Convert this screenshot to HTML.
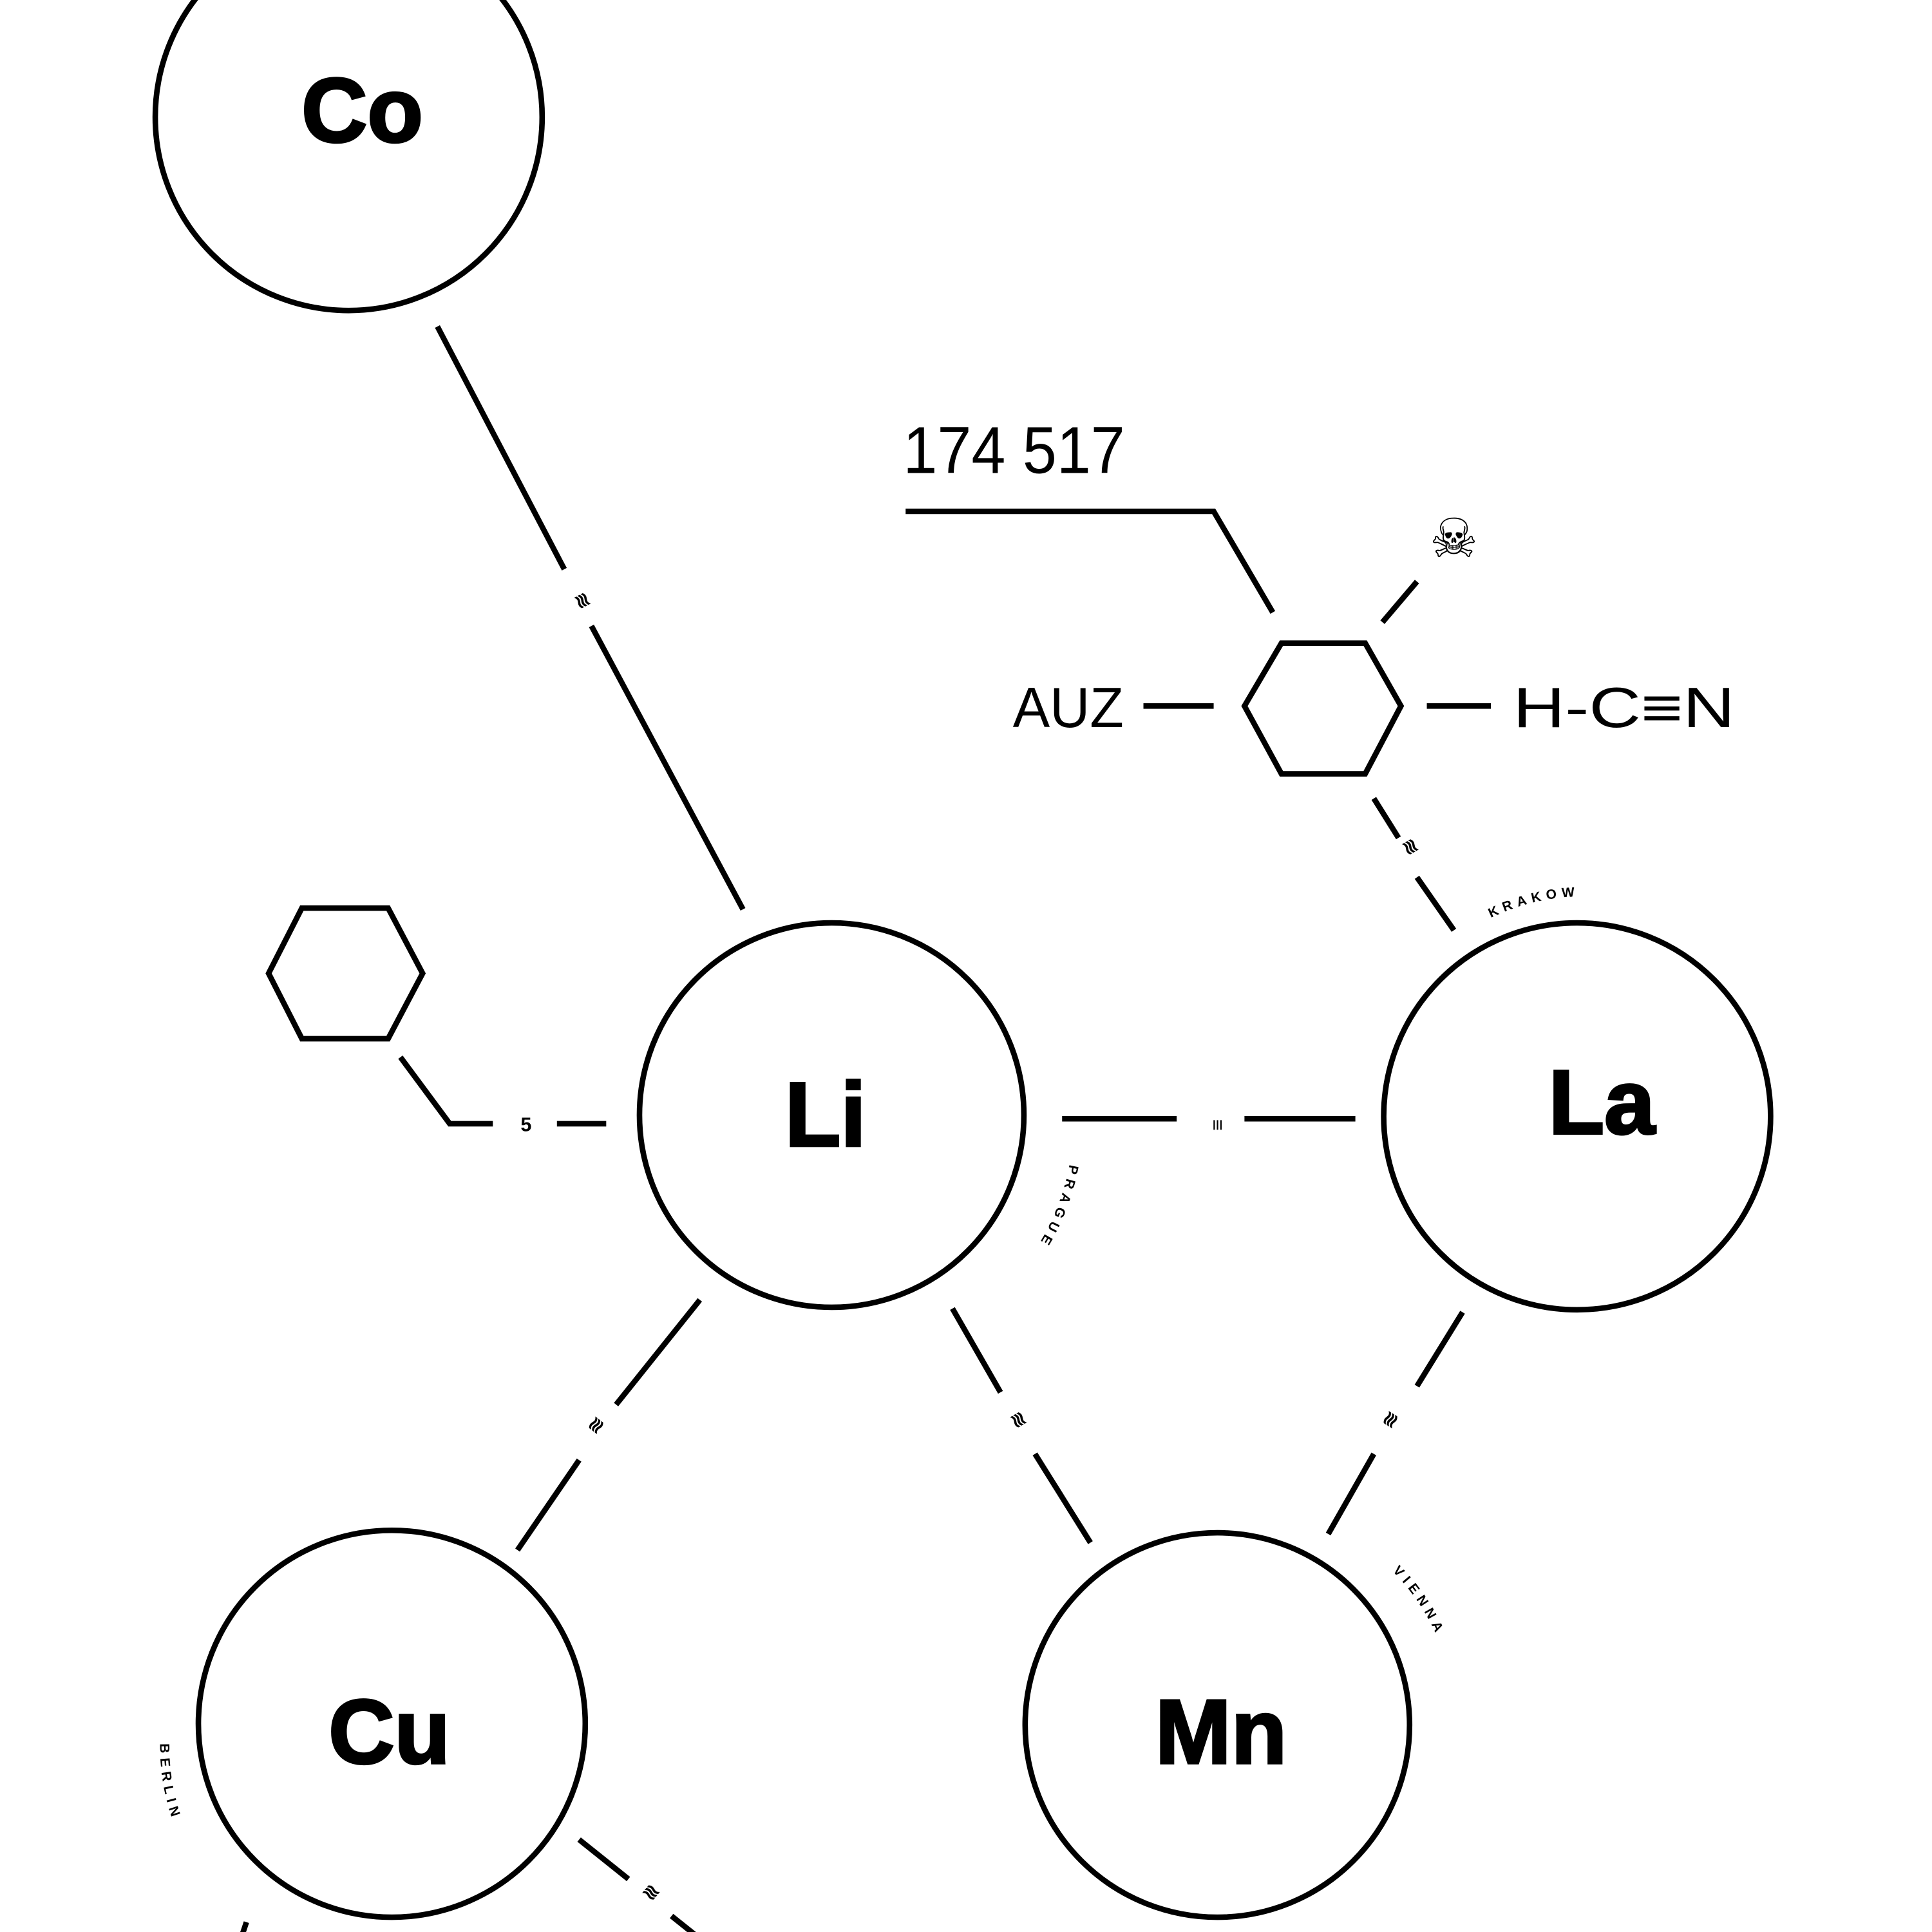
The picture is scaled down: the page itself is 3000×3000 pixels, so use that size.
<!DOCTYPE html>
<html><head><meta charset="utf-8"><style>
html,body{margin:0;padding:0;background:#fff;}
svg{display:block;}
</style></head><body>
<svg width="3000" height="3000" viewBox="0 0 1568 1568" xmlns="http://www.w3.org/2000/svg">
<rect width="1568" height="1568" fill="#fff"/>
<defs>
<path id="arcLa" d="M1210,745 A170,170 0 0 1 1360,745"/>
<path id="arcLi" d="M868,945 A190,190 0 0 1 810,1050"/>
<path id="arcMn" d="M1130,1275 A175,175 0 0 1 1180,1380"/>
<path id="arcCu" d="M130,1415 A175,175 0 0 0 170,1530"/>
</defs>
<g fill="none" stroke="#000" stroke-width="4.5">
<circle cx="283" cy="95" r="157"/>
<circle cx="675" cy="905" r="156"/>
<circle cx="1280" cy="906" r="157"/>
<circle cx="318" cy="1399" r="157"/>
<circle cx="988" cy="1400" r="156"/>
<line x1="355" y1="265" x2="458" y2="462"/>
<line x1="480" y1="508" x2="603" y2="738"/>
<line x1="862" y1="908" x2="955" y2="908"/>
<line x1="1010" y1="908" x2="1100" y2="908"/>
<line x1="568" y1="1055" x2="500" y2="1140"/>
<line x1="470" y1="1185" x2="420" y2="1258"/>
<line x1="773" y1="1062" x2="812" y2="1130"/>
<line x1="840" y1="1180" x2="885" y2="1252"/>
<line x1="1187" y1="1065" x2="1150" y2="1125"/>
<line x1="1115" y1="1180" x2="1078" y2="1245"/>
<line x1="470" y1="1493" x2="510" y2="1525"/>
<line x1="545" y1="1555" x2="570" y2="1575"/>
<line x1="200" y1="1560" x2="195" y2="1575"/>
<polygon points="1010,573 1040,522 1108,522 1137,573 1108,628 1040,628"/>
<polyline points="735,415 985,415 1033,497"/>
<line x1="1122" y1="505" x2="1150" y2="472"/>
<line x1="928" y1="573" x2="985" y2="573"/>
<line x1="1158" y1="573" x2="1210" y2="573"/>
<line x1="1115" y1="648" x2="1135" y2="680"/>
<line x1="1150" y1="712" x2="1180" y2="755"/>
<polygon points="218,790 245,737 315,737 343,790 315,843 245,843"/>
<polyline points="325,858 365,912 400,912"/>
<line x1="452" y1="912" x2="492" y2="912"/>
</g>
<g font-family="Liberation Sans, sans-serif" font-weight="bold" font-size="74" text-anchor="middle" fill="#000" stroke="#000" stroke-width="2">
<text x="294" y="115">Co</text>
<text x="670" y="930">Li</text>
<text x="1300" y="920">La</text>
<text x="316" y="1431">Cu</text>
<text x="991" y="1431">Mn</text>
</g>
<g font-family="Liberation Sans, sans-serif" fill="#000">
<text x="733" y="384" font-size="54" textLength="180" lengthAdjust="spacingAndGlyphs">174 517</text>
<text x="822" y="590" font-size="46" textLength="90" lengthAdjust="spacingAndGlyphs">AUZ</text>
<text x="1228" y="590" font-size="46" textLength="180" lengthAdjust="spacingAndGlyphs">H-C≡N</text>
<text x="1180" y="452" font-size="44" text-anchor="middle">☠</text>
<g font-size="16" font-weight="bold" text-anchor="middle">
<text transform="translate(468,490) rotate(62)">≋</text>
<text transform="translate(983,913) rotate(90)">≡</text>
<text x="427" y="918">5</text>
<text transform="translate(488,1160) rotate(-52)">≋</text>
<text transform="translate(822,1155) rotate(60)">≋</text>
<text transform="translate(1133,1155) rotate(-58)">≋</text>
<text transform="translate(1140,690) rotate(60)">≋</text>
<text transform="translate(525,1540) rotate(40)">≋</text>
</g>
<g font-size="11" font-weight="bold" letter-spacing="4">
<text><textPath href="#arcLa">KRAKOW</textPath></text>
<text><textPath href="#arcLi">PRAGUE</textPath></text>
<text><textPath href="#arcMn">VIENNA</textPath></text>
<text><textPath href="#arcCu">BERLIN</textPath></text>
</g>
</g>
</svg>
</body></html>
